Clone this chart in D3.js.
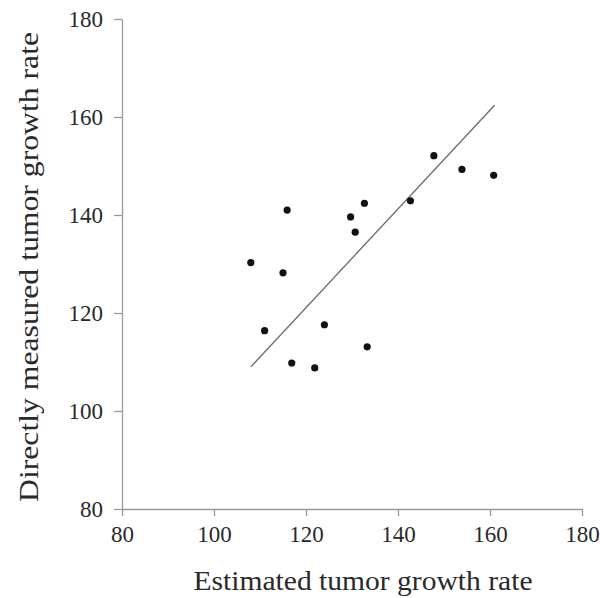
<!DOCTYPE html>
<html>
<head>
<meta charset="utf-8">
<script src="https://cdn.jsdelivr.net/npm/d3@7"></script>
<style>
  html, body { margin: 0; padding: 0; background: #fff; }
  svg { display: block; }
</style>
</head>
<body>
<div id="chart"></div>
<script>
// estimated vs directly measured growth rate
const estimated = [108, 111, 115, 115.9, 116.9, 121.9, 124, 129.7, 130.7, 132.7, 133.3, 142.7, 147.8, 153.9, 160.8];
const measured = [130.3, 116.4, 128.2, 141, 109.8, 108.8, 117.6, 139.6, 136.5, 142.4, 113.1, 142.9, 152.1, 149.3, 148.1];
const fitX = [108, 161];
const fitY = [109, 162.4];
const xTicks = [80, 100, 120, 140, 160, 180];
const yTicks = [80, 100, 120, 140, 160, 180];

const width = 600;
const height = 598;
const margin = { top: 19, right: 18, bottom: 90, left: 122 };

const font = "'Liberation Serif', 'Times New Roman', serif";
const axisColor = "#9a9a9a";
const textColor = "#2a2a2a";

const svg = d3.select("#chart")
  .append("svg")
  .attr("width", width)
  .attr("height", height);

const x = d3.scaleLinear().domain([80, 180]).range([margin.left, width - margin.right]);
const y = d3.scaleLinear().domain([80, 180]).range([height - margin.bottom + 1, margin.top]);

const xAxis = svg.append("g")
  .attr("transform", `translate(0,${y(80)})`)
  .call(d3.axisBottom(x).tickValues(xTicks).tickSize(7).tickPadding(10).tickSizeOuter(0));

const yAxis = svg.append("g")
  .attr("transform", `translate(${x(80)},0)`)
  .call(d3.axisLeft(y).tickValues(yTicks).tickSize(8).tickPadding(11).tickSizeOuter(0));

[xAxis, yAxis].forEach((g) => {
  g.select(".domain").attr("stroke", axisColor).attr("stroke-width", 1.3);
  g.selectAll(".tick line").attr("stroke", axisColor).attr("stroke-width", 1.3);
  g.selectAll(".tick text")
    .attr("fill", textColor)
    .style("font-family", font)
    .style("font-size", "23px");
});

// fitted line
svg.append("line")
  .attr("x1", x(fitX[0]))
  .attr("y1", y(fitY[0]))
  .attr("x2", x(fitX[1]))
  .attr("y2", y(fitY[1]))
  .attr("stroke", "#6a6a6a")
  .attr("stroke-width", 1.3);

svg.append("g")
  .selectAll("circle")
  .data(estimated.map((v, i) => [v, measured[i]]))
  .join("circle")
  .attr("cx", (d) => x(d[0]))
  .attr("cy", (d) => y(d[1]))
  .attr("r", 3.6)
  .attr("fill", "#111");

svg.append("text")
  .attr("x", 363)
  .attr("y", 590)
  .attr("text-anchor", "middle")
  .attr("textLength", 339)
  .attr("lengthAdjust", "spacingAndGlyphs")
  .attr("fill", textColor)
  .style("font-family", font)
  .style("font-size", "27px")
  .text("Estimated tumor growth rate");

svg.append("text")
  .attr("transform", "translate(38,267) rotate(-90)")
  .attr("text-anchor", "middle")
  .attr("textLength", 470)
  .attr("lengthAdjust", "spacingAndGlyphs")
  .attr("fill", textColor)
  .style("font-family", font)
  .style("font-size", "27px")
  .text("Directly measured tumor growth rate");
</script>
</body>
</html>
